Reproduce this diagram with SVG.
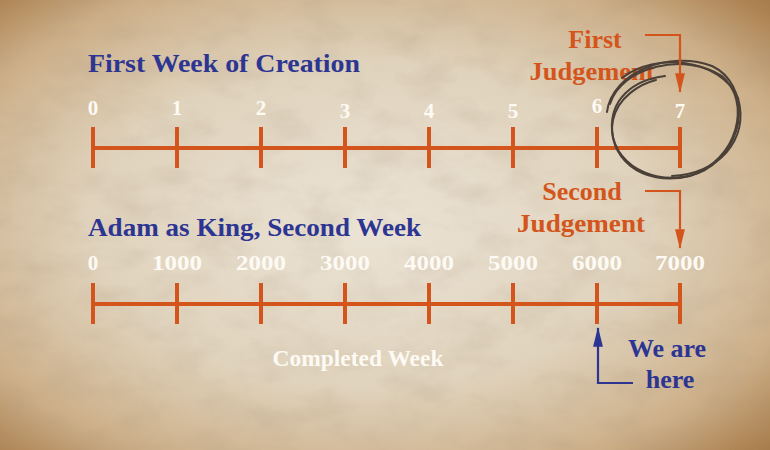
<svg xmlns="http://www.w3.org/2000/svg" width="770" height="450" viewBox="0 0 770 450">
<defs>
<radialGradient id="paper" cx="0.48" cy="0.5" r="0.72">
<stop offset="0" stop-color="#ebe3d5"/>
<stop offset="0.5" stop-color="#e0d3bd"/>
<stop offset="0.8" stop-color="#cdb08a"/>
<stop offset="1" stop-color="#a77a48"/>
</radialGradient>
<filter id="tex" x="0" y="0" width="100%" height="100%">
<feTurbulence type="fractalNoise" baseFrequency="0.02 0.035" numOctaves="4" seed="11" result="n"/>
<feColorMatrix in="n" type="matrix" values="0 0 0 0 0.4  0 0 0 0 0.3  0 0 0 0 0.2  0 0 0 0.7 -0.3" result="c"/>
<feComposite in="c" in2="SourceGraphic" operator="in"/>
</filter>
<marker id="arrO" viewBox="0 0 20 10" refX="19" refY="5" markerWidth="9" markerHeight="4.5" orient="auto" markerUnits="strokeWidth">
<path d="M0,0 L20,5 L0,10 z" fill="#d4551b"/>
</marker>
<marker id="arrB" viewBox="0 0 20 10" refX="19" refY="5" markerWidth="9" markerHeight="4.5" orient="auto" markerUnits="strokeWidth">
<path d="M0,0 L20,5 L0,10 z" fill="#2d3593"/>
</marker>
<style>
.ser{font-family:"Liberation Serif","DejaVu Serif",serif;font-weight:bold}
.blue{fill:#2d3593;font-size:26px}
.org{fill:#d4551b;font-size:26px}
.wht{fill:#fdfaf4}
.num{font-size:21px;text-anchor:middle}
.tl{stroke:#d4551b;stroke-width:4;fill:none}
.ao{stroke:#d4551b;stroke-width:2.2;fill:none}
.ab{stroke:#2d3593;stroke-width:2.2;fill:none}
.circ{stroke:#4a4038;stroke-width:2;fill:none;stroke-linecap:round}
</style>
</defs>
<rect width="770" height="450" fill="url(#paper)"/>
<rect width="770" height="450" fill="#ffffff" filter="url(#tex)" opacity="0.6"/>

<g id="title1"><text class="ser blue" x="88" y="72" textLength="272" lengthAdjust="spacingAndGlyphs">First Week of Creation</text></g>
<g id="timeline1">
<path class="tl" d="M93,148 H680 M93,127 V168 M177,127 V168 M261,127 V168 M345,127 V168 M429,127 V168 M513,127 V168 M597,127 V168 M680,127 V168"/>
<g class="ser wht num">
<text x="93" y="115">0</text><text x="177" y="115">1</text><text x="261" y="115">2</text><text x="345" y="118">3</text><text x="429" y="118">4</text><text x="513" y="118">5</text><text x="597" y="113">6</text><text x="680" y="118">7</text>
</g>
</g>
<g id="first-judgement">
<text class="ser org" x="595" y="48" text-anchor="middle">First</text>
<text class="ser org" x="592" y="80" text-anchor="middle" textLength="125" lengthAdjust="spacingAndGlyphs">Judgement</text>
</g>
<g id="circle">
<path class="circ" d="M607,112 C612,72 670,50 712,66 C750,84 748,145 705,170 C665,190 615,170 612,130 C610,100 632,80 665,76"/>
<path class="circ" d="M610,104 C622,66 685,52 722,76 C752,102 738,160 690,176 C640,188 606,155 613,120 C618,97 640,84 656,80"/>
<path class="circ" d="M622,78 C655,52 720,58 738,98 C750,140 718,174 672,176"/>
</g>

<g id="title2"><text class="ser blue" x="88" y="236" textLength="333" lengthAdjust="spacingAndGlyphs">Adam as King, Second Week</text></g>
<g id="timeline2">
<path class="tl" d="M93,304 H680 M93,283 V324 M177,283 V324 M261,283 V324 M345,283 V324 M429,283 V324 M513,283 V324 M597,283 V324 M680,283 V324"/>
<g class="ser wht num">
<text x="93" y="270">0</text><text x="177" y="270" textLength="50" lengthAdjust="spacingAndGlyphs">1000</text><text x="261" y="270" textLength="50" lengthAdjust="spacingAndGlyphs">2000</text><text x="345" y="270" textLength="50" lengthAdjust="spacingAndGlyphs">3000</text><text x="429" y="270" textLength="50" lengthAdjust="spacingAndGlyphs">4000</text><text x="513" y="270" textLength="50" lengthAdjust="spacingAndGlyphs">5000</text><text x="597" y="270" textLength="50" lengthAdjust="spacingAndGlyphs">6000</text><text x="680" y="270" textLength="50" lengthAdjust="spacingAndGlyphs">7000</text>
</g>
</g>
<g id="second-judgement">
<text class="ser org" x="582" y="200" text-anchor="middle">Second</text>
<text class="ser org" x="581" y="232" text-anchor="middle" textLength="128" lengthAdjust="spacingAndGlyphs">Judgement</text>
</g>
<g id="completed"><text class="ser wht" x="358" y="366" font-size="24" text-anchor="middle" textLength="171" lengthAdjust="spacingAndGlyphs">Completed Week</text></g>
<g id="we-are-here">
<text class="ser blue" x="667" y="357" text-anchor="middle">We are</text>
<text class="ser blue" x="670" y="388" text-anchor="middle">here</text>
</g>

<g id="connectors">
<path class="ao" marker-end="url(#arrO)" d="M645,35 H680 V92"/>
<path class="ao" marker-end="url(#arrO)" d="M645,191 H680 V248"/>
<path class="ab" marker-end="url(#arrB)" d="M633,383 H598 V328"/>
</g>
</svg>
